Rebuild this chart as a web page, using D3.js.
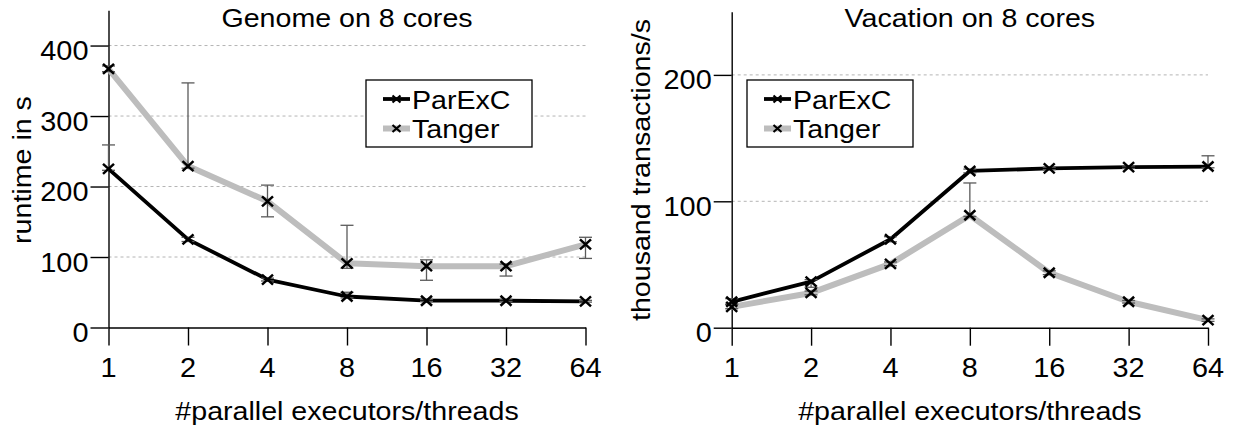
<!DOCTYPE html>
<html>
<head>
<meta charset="utf-8">
<script src="https://cdn.jsdelivr.net/npm/d3@7"></script>
<style>
  body { margin: 0; background: #fff; }
  svg { display: block; font-family: "Liberation Sans", Arial, Helvetica, sans-serif; }
</style>
</head>
<body>
<div class="chart"></div>
<script>
var svgWidth = 1233;
var svgHeight = 430;

// data
var threads = [1, 2, 4, 8, 16, 32, 64];

var genomeParexc   = [225, 125, 68, 44, 38, 38, 37];
var genomeParexcLo = [223, 122, 66, 42, 37, 37, 36];
var genomeParexcHi = [259, 128, 70, 50, 40, 40, 38.5];
var genomeTanger   = [367, 229, 179, 91, 87, 87, 118];
var genomeTangerLo = [363, 226, 157, 84, 67, 73, 98];
var genomeTangerHi = [371, 347, 202, 145, 96, 90, 128];

var vacationParexc   = [20.5, 36.5, 70, 124, 126, 127, 127.5];
var vacationParexcLo = [18.5, 32, 68, 122.5, 125, 126, 126.5];
var vacationParexcHi = [23, 38, 72, 125.5, 127, 128, 136];
var vacationTanger   = [16.5, 27.5, 50.5, 89, 43.5, 20.5, 6];
var vacationTangerLo = [15, 26, 49, 88, 42, 19.5, 5];
var vacationTangerHi = [18.5, 29, 52, 114.5, 45, 21.5, 7];

var seriesNames = ["ParExC", "Tanger"];
var genomeTicks = [0, 100, 200, 300, 400];
var vacationTicks = [0, 100, 200];

var svg = d3.select(".chart")
  .append("svg")
  .attr("width", svgWidth)
  .attr("height", svgHeight);

// the text in the figure is a bit wider than Arial, so stretch it a little
function addText(g, x, y, str, size, anchor, rotate, stretch) {
  stretch = stretch || 1.1;
  return g.append("text")
    .attr("transform", `translate(${x},${y})` + (rotate ? " rotate(-90)" : "") + ` scale(${stretch},1)`)
    .attr("text-anchor", anchor)
    .attr("font-size", size)
    .attr("fill", "#000")
    .text(str);
}

function cross(g, x, y, hw, hh, sw) {
  g.append("path")
    .attr("d", `M${x - hw},${y - hh}L${x + hw},${y + hh}M${x - hw},${y + hh}L${x + hw},${y - hh}`)
    .attr("stroke", "#000")
    .attr("stroke-width", sw || 2.5)
    .attr("fill", "none");
}

function drawPanel(cfg) {
  var g = svg.append("g");

  var x = d3.scaleLog().base(2).domain([1, 64]).range(cfg.xRange);
  var y = d3.scaleLinear().domain(cfg.yDomain).range(cfg.yRange);
  var x0 = cfg.xRange[0];

  // grid lines
  g.selectAll(".grid")
    .data(cfg.yTicks.filter(d => d > 0))
    .enter()
    .append("line")
    .attr("x1", x0).attr("x2", cfg.xRange[1])
    .attr("y1", d => y(d)).attr("y2", d => y(d))
    .attr("stroke", "#b4b4b4")
    .attr("stroke-width", 1)
    .attr("stroke-dasharray", "3,3");

  // axes
  var bottomAxis = d3.axisBottom(x).tickValues(threads).tickSize(18).tickSizeOuter(0).tickFormat("");
  var leftAxis = d3.axisLeft(y).tickValues(cfg.yTicks).tickSize(18).tickSizeOuter(0).tickFormat("");

  g.append("g")
    .attr("transform", `translate(0,${y(0)})`)
    .call(bottomAxis);
  g.append("g")
    .attr("transform", `translate(${x0},0)`)
    .call(leftAxis);
  g.selectAll(".domain, .tick line").attr("stroke", "#000").attr("stroke-width", 1.4);

  // tick labels
  threads.forEach(function (t) {
    addText(g, x(t), 376.5, String(t), 27, "middle", false, 1.07);
  });
  cfg.yTicks.forEach(function (v) {
    addText(g, x0 - 20, y(v) + 14.5, String(v), 27, "end", false, 1.07);
  });

  // titles
  var mid = (cfg.xRange[0] + cfg.xRange[1]) / 2;
  addText(g, mid, 27, cfg.title, 26, "middle");
  addText(g, mid, 420, "#parallel executors/threads", 26, "middle");
  addText(g, cfg.yLabelX, 170, cfg.yLabel, 26, "middle", true);

  var line = d3.line()
    .x((d, i) => x(threads[i]))
    .y(d => y(d));

  var series = [
    { name: seriesNames[1], vals: cfg.tanger, lo: cfg.tangerLo, hi: cfg.tangerHi, color: "#bdbdbd", width: 6 },
    { name: seriesNames[0], vals: cfg.parexc, lo: cfg.parexcLo, hi: cfg.parexcHi, color: "#000", width: 3.8 }
  ];

  series.forEach(function (s) {
    g.append("path")
      .datum(s.vals)
      .attr("d", line)
      .attr("fill", "none")
      .attr("stroke", s.color)
      .attr("stroke-width", s.width)
      .attr("stroke-linejoin", "round");
  });

  // error bars
  series.forEach(function (s) {
    s.vals.forEach(function (v, i) {
      var px = x(threads[i]);
      var eb = g.append("g").attr("stroke", "#5a5a5a").attr("stroke-width", 1.3);
      eb.append("line").attr("x1", px).attr("x2", px).attr("y1", y(s.lo[i])).attr("y2", y(s.hi[i]));
      eb.append("line").attr("x1", px - 6.5).attr("x2", px + 6.5).attr("y1", y(s.lo[i])).attr("y2", y(s.lo[i]));
      eb.append("line").attr("x1", px - 6.5).attr("x2", px + 6.5).attr("y1", y(s.hi[i])).attr("y2", y(s.hi[i]));
    });
  });

  // markers
  series.forEach(function (s) {
    s.vals.forEach(function (v, i) {
      cross(g, x(threads[i]), y(v), 5.5, 5);
    });
  });

  // legend
  var L = cfg.legendX, T = 80;
  g.append("rect")
    .attr("x", L).attr("y", T)
    .attr("width", 166).attr("height", 67)
    .attr("fill", "#fff")
    .attr("stroke", "#000")
    .attr("stroke-width", 1.3);

  var legendRows = [
    { name: seriesNames[0], color: "#000", width: 3.8, y: T + 19 },
    { name: seriesNames[1], color: "#bdbdbd", width: 6, y: T + 48.5 }
  ];
  legendRows.forEach(function (r) {
    g.append("line")
      .attr("x1", L + 17).attr("x2", L + 44)
      .attr("y1", r.y).attr("y2", r.y)
      .attr("stroke", r.color)
      .attr("stroke-width", r.width);
    cross(g, L + 30.5, r.y, 4, 3.5, 2.2);
    addText(g, L + 46, r.y + 9.5, r.name, 26, "start");
  });
}

drawPanel({
  xRange: [108.5, 585.5],
  yDomain: [0, 450],
  yRange: [327.5, 10.3],
  yTicks: genomeTicks,
  title: "Genome on 8 cores",
  yLabel: "runtime in s",
  yLabelX: 31,
  legendX: 366,
  parexc: genomeParexc, parexcLo: genomeParexcLo, parexcHi: genomeParexcHi,
  tanger: genomeTanger, tangerLo: genomeTangerLo, tangerHi: genomeTangerHi
});

drawPanel({
  xRange: [731.7, 1208],
  yDomain: [0, 250],
  yRange: [327.7, 11.7],
  yTicks: vacationTicks,
  title: "Vacation on 8 cores",
  yLabel: "thousand transactions/s",
  yLabelX: 650,
  legendX: 747,
  parexc: vacationParexc, parexcLo: vacationParexcLo, parexcHi: vacationParexcHi,
  tanger: vacationTanger, tangerLo: vacationTangerLo, tangerHi: vacationTangerHi
});
</script>
</body>
</html>
